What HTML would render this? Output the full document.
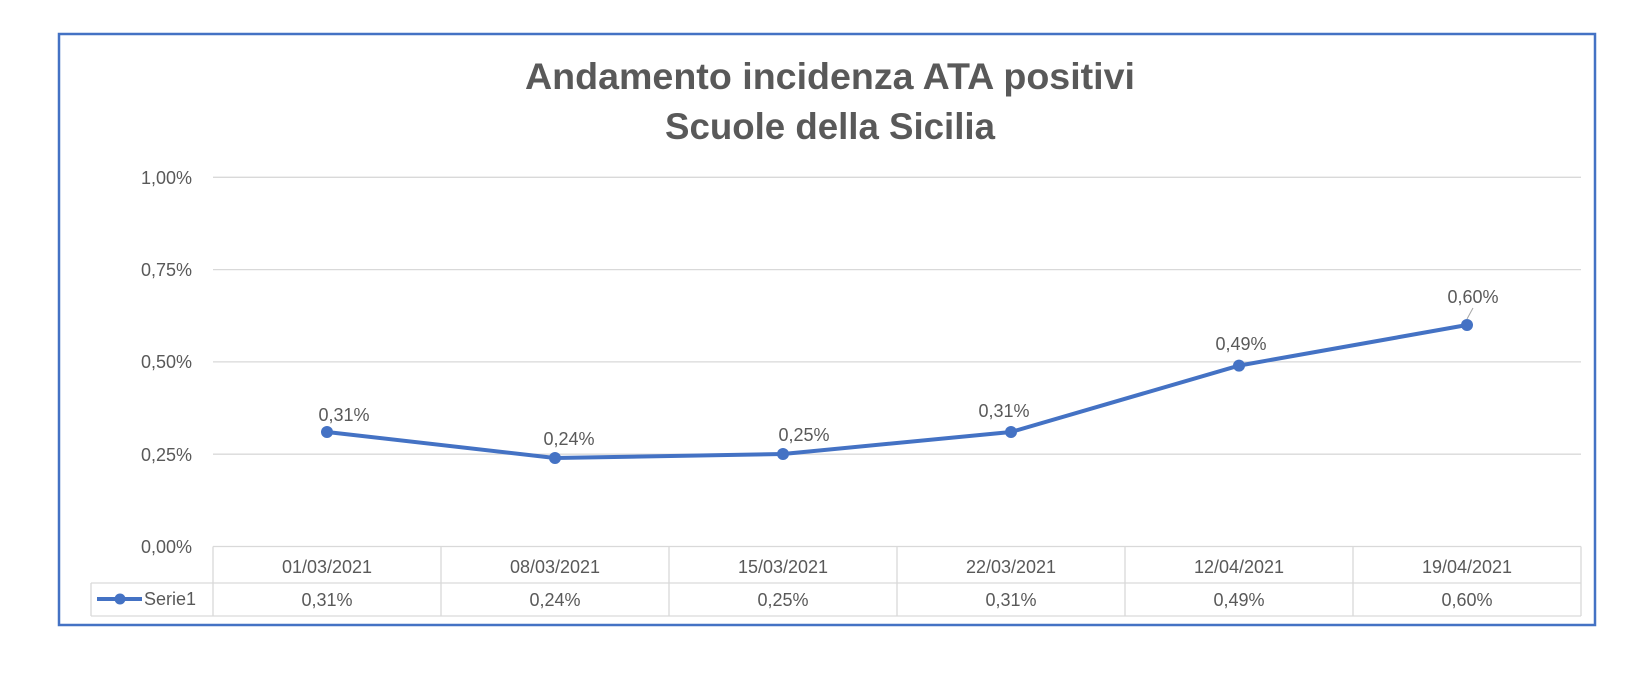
<!DOCTYPE html>
<html><head><meta charset="utf-8"><style>
html,body{margin:0;padding:0;background:#fff;}
svg{display:block;}
text{font-family:"Liberation Sans",sans-serif;fill:#595959;}
</style></head><body>
<svg width="1626" height="694" viewBox="0 0 1626 694">
<rect x="59" y="34" width="1536" height="591" fill="#fff" stroke="#4472C4" stroke-width="2.5"/>
<text x="830" y="89" text-anchor="middle" font-size="37" font-weight="bold" textLength="610" lengthAdjust="spacingAndGlyphs">Andamento incidenza ATA positivi</text>
<text x="830" y="139" text-anchor="middle" font-size="37" font-weight="bold" textLength="330" lengthAdjust="spacingAndGlyphs">Scuole della Sicilia</text>
<g stroke="#d9d9d9" stroke-width="1.3">
<line x1="213" y1="177.3" x2="1581" y2="177.3"/>
<line x1="213" y1="269.6" x2="1581" y2="269.6"/>
<line x1="213" y1="361.9" x2="1581" y2="361.9"/>
<line x1="213" y1="454.2" x2="1581" y2="454.2"/>
<line x1="213" y1="546.5" x2="1581" y2="546.5"/>
<line x1="91" y1="583" x2="1581" y2="583"/>
<line x1="91" y1="616" x2="1581" y2="616"/>
<line x1="91" y1="583" x2="91" y2="616"/>
<line x1="213" y1="546.5" x2="213" y2="616"/>
<line x1="441" y1="546.5" x2="441" y2="616"/>
<line x1="669" y1="546.5" x2="669" y2="616"/>
<line x1="897" y1="546.5" x2="897" y2="616"/>
<line x1="1125" y1="546.5" x2="1125" y2="616"/>
<line x1="1353" y1="546.5" x2="1353" y2="616"/>
<line x1="1581" y1="546.5" x2="1581" y2="616"/>
</g>
<g font-size="18" text-anchor="end">
<text x="192" y="184">1,00%</text>
<text x="192" y="276">0,75%</text>
<text x="192" y="368">0,50%</text>
<text x="192" y="461">0,25%</text>
<text x="192" y="553">0,00%</text>
</g>
<g font-size="18" text-anchor="middle">
<text x="327" y="573">01/03/2021</text>
<text x="555" y="573">08/03/2021</text>
<text x="783" y="573">15/03/2021</text>
<text x="1011" y="573">22/03/2021</text>
<text x="1239" y="573">12/04/2021</text>
<text x="1467" y="573">19/04/2021</text>
<text x="327" y="606">0,31%</text>
<text x="555" y="606">0,24%</text>
<text x="783" y="606">0,25%</text>
<text x="1011" y="606">0,31%</text>
<text x="1239" y="606">0,49%</text>
<text x="1467" y="606">0,60%</text>
</g>
<line x1="97" y1="599" x2="142" y2="599" stroke="#4472C4" stroke-width="4"/>
<circle cx="120" cy="599" r="5.5" fill="#4472C4"/>
<text x="144" y="605" font-size="18">Serie1</text>
<polyline fill="none" stroke="#4472C4" stroke-width="4" stroke-linejoin="round" points="327,432 555,458 783,454 1011,432 1239,365.6 1467,325"/>
<g fill="#4472C4">
<circle cx="327" cy="432" r="6"/><circle cx="555" cy="458" r="6"/><circle cx="783" cy="454" r="6"/>
<circle cx="1011" cy="432" r="6"/><circle cx="1239" cy="365.6" r="6"/><circle cx="1467" cy="325" r="6"/>
</g>
<line x1="1467" y1="319" x2="1473" y2="308" stroke="#a6a6a6" stroke-width="1"/>
<g font-size="18" text-anchor="middle">
<text x="344" y="421">0,31%</text>
<text x="569" y="445">0,24%</text>
<text x="804" y="441">0,25%</text>
<text x="1004" y="417">0,31%</text>
<text x="1241" y="350">0,49%</text>
<text x="1473" y="303">0,60%</text>
</g>
</svg>
</body></html>
